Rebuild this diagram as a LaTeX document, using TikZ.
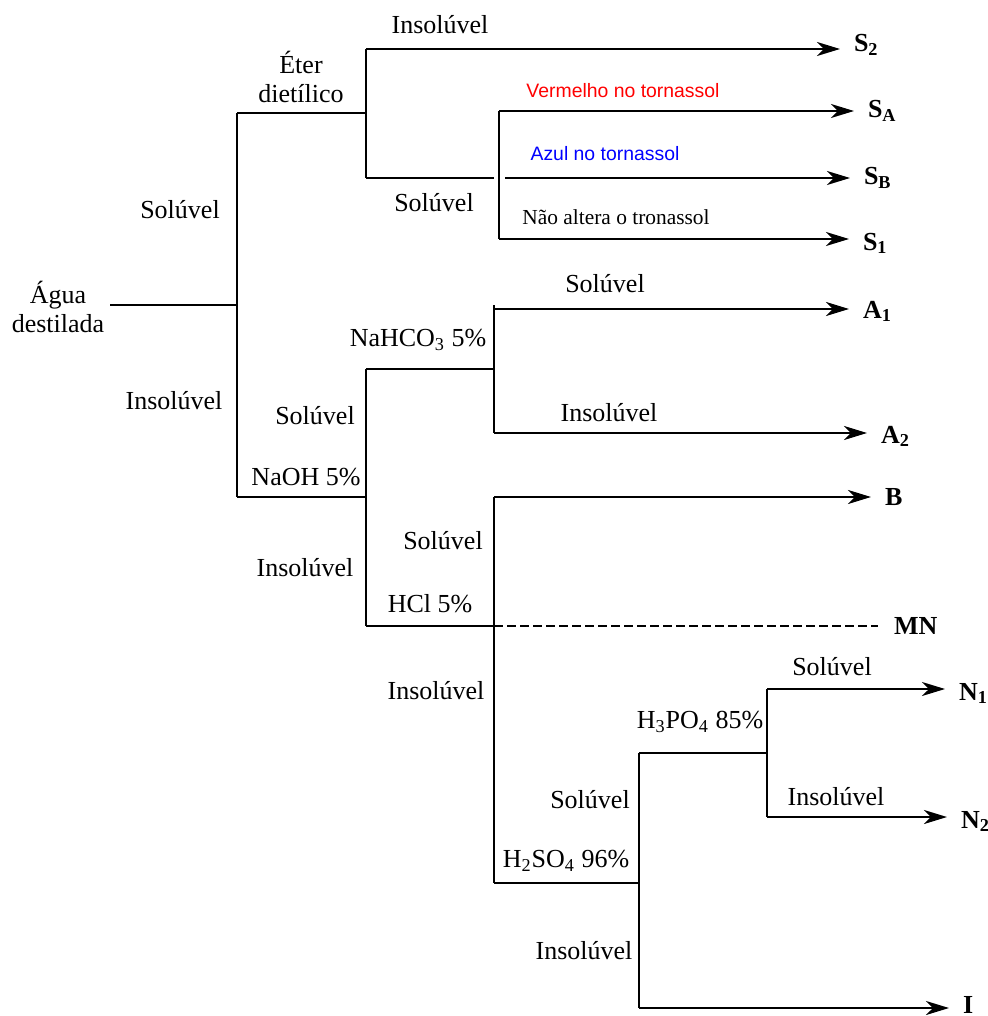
\documentclass[tikz,border=0pt]{standalone}
\usepackage{fontspec}
\setmainfont{Liberation Serif}
\newfontfamily\tornfont{Liberation Sans}
\usetikzlibrary{arrows.meta}
\newcommand\tamanho{\fontsize{13}{14.5}\selectfont}
\tikzset{
  seta/.style={-{Stealth[length=11.5pt,width=7pt,inset=3.5pt]},line width=1pt},
  setagrossa/.style={seta,line width=1.4pt},
  txt/.style={inner sep=0pt,font=\tamanho,align=center},
  fim/.style={anchor=base west,inner sep=0pt,inner xsep=6.5pt,font=\tamanho\bfseries},
  torn/.style={inner sep=0pt,font=\tornfont\fontsize{9.7}{11}\selectfont},
}
\begin{document}
\begin{tikzpicture}[x=.5pt,y=-.5pt,line width=1pt]
  \useasboundingbox(0,0)rectangle(987,1016);
  % pontos de ramificacao
  \coordinate(W)at(110,305); \coordinate(A)at(237,305);
  \coordinate(A1)at(237,113); \coordinate(A2)at(237,497);
  \coordinate(B0)at(366,113); \coordinate(B1)at(366,49); \coordinate(B2)at(366,178);
  \coordinate(C0)at(494,178); \coordinate(C1)at(499,111); \coordinate(C2)at(499,239);
  \coordinate(C3)at(505,178);
  \coordinate(D0)at(366,497); \coordinate(D1)at(366,369); \coordinate(D2)at(366,626);
  \coordinate(E0)at(494,369); \coordinate(E1)at(494,305); \coordinate(E2)at(494,433);
  \coordinate(E3)at(494,309);
  \coordinate(F0)at(494,626); \coordinate(F1)at(494,497); \coordinate(F2)at(494,883);
  \coordinate(G0)at(639,883); \coordinate(G1)at(639,753); \coordinate(G2)at(639,1008);
  \coordinate(H0)at(767,753); \coordinate(H1)at(767,689); \coordinate(H2)at(767,817);
  % resultados
  \node[fim](S2)at(840,52){S\textsubscript{2}};
  \node[fim](SA)at(854,118){S\textsubscript{A}};
  \node[fim](SB)at(850,185){S\textsubscript{B}};
  \node[fim](S1)at(849,250){S\textsubscript{1}};
  \node[fim](An1)at(849,318){A\textsubscript{1}};
  \node[fim](An2)at(867,443){A\textsubscript{2}};
  \node[fim](Bs)at(871,505){B};
  \node[fim,inner xsep=7.5pt](MN)at(878,634){MN};
  \node[fim](N1)at(945,700){N\textsubscript{1}};
  \node[fim](N2)at(947,828){N\textsubscript{2}};
  \node[fim](I)at(949,1013){I};
  % linhas
  \draw(W)--(A) (A1)--(A2);
  \draw(A1)--(B0) (B1)--(B2);
  \draw[seta](B1)--(B1-|S2.west);
  \draw(B2)--(C0) (C1)--(C2);
  \draw[seta](C1)--(C1-|SA.west);
  \draw[seta](C3)--(C3-|SB.west);
  \draw[seta](C2)--(C2-|S1.west);
  \draw(A2)--(D0) (D1)--(D2);
  \draw(D1)--(E0) (E1)--(E2);
  \draw[setagrossa](E3)--(E3-|An1.west);
  \draw[setagrossa](E2)--(E2-|An2.west);
  \draw(D2)--(F0) (F1)--(F2);
  \draw[setagrossa](F1)--(F1-|Bs.west);
  \draw[dash pattern=on 4.5pt off 2pt](F0)--(F0-|MN.west);
  \draw(F2)--(G0) (G1)--(G2);
  \draw(G1)--(H0) (H1)--(H2);
  \draw[seta](H1)--(H1-|N1.west);
  \draw[setagrossa](H2)--(H2-|N2.west);
  \draw[seta](G2)--(G2-|I.west);
  % rotulos
  \node[txt](agua)at(58,307){Água\\destilada};
  \node[txt](eter)at(301,77){Éter\\dietílico};
  \node[txt](l1)at(440,25){Insolúvel};
  \node[txt](l2)at(180,210){Solúvel};
  \node[txt](l3)at(434,203){Solúvel};
  \node[torn,text=red](v)at(623,91){Vermelho no tornassol};
  \node[torn,text=blue](az)at(605,154){Azul no tornassol};
  \node[txt,font=\fontsize{10.7}{12}\selectfont](na)at(616,217){Não altera o tronassol};
  \node[txt](l4)at(605,284){Solúvel};
  \node[txt](nahco)at(418,340){NaHCO\textsubscript{3} 5\%};
  \node[txt](l5)at(174,401){Insolúvel};
  \node[txt](l6)at(315,416){Solúvel};
  \node[txt](l7)at(609,413){Insolúvel};
  \node[txt](naoh)at(306,477){NaOH 5\%};
  \node[txt](l8)at(443,541){Solúvel};
  \node[txt](l9)at(305,568){Insolúvel};
  \node[txt](hcl)at(430,604){HCl 5\%};
  \node[txt](l10)at(436,691){Insolúvel};
  \node[txt](l11)at(832,667){Solúvel};
  \node[txt](hpo)at(700,722){H\textsubscript{3}PO\textsubscript{4} 85\%};
  \node[txt](l12)at(590,800){Solúvel};
  \node[txt](l13)at(836,797){Insolúvel};
  \node[txt](hso)at(566,861){H\textsubscript{2}SO\textsubscript{4} 96\%};
  \node[txt](l14)at(584,951){Insolúvel};
\end{tikzpicture}
\end{document}
